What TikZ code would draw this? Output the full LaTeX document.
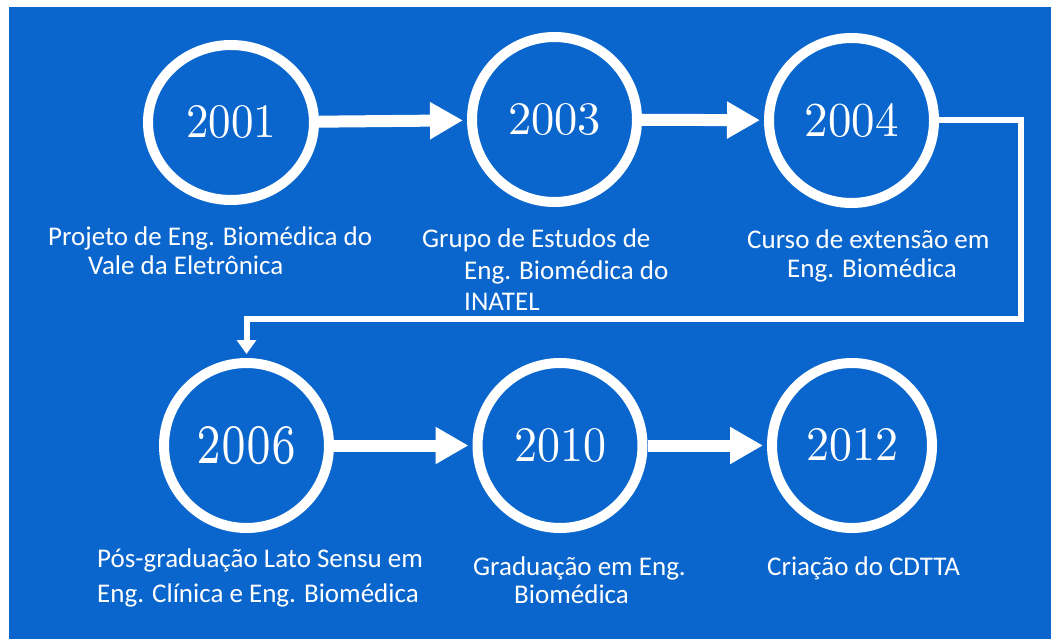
\documentclass[tikz,border=0pt]{standalone}
\usepackage{fontspec}
\usepackage{graphicx}
\newfontfamily\capfont{Carlito}
\usetikzlibrary{arrows.meta,shapes.geometric}
\definecolor{bgblue}{RGB}{10,102,204}
\begin{document}
\begin{tikzpicture}[x=1pt,y=-1pt,
  yearnode/.style={ellipse, draw=white, line width=10pt, minimum width=165pt, minimum height=165pt, inner sep=0pt, text=white},
  captext/.style={anchor=base west, inner sep=0pt, text=white, font=\capfont\fontsize{27}{30}\selectfont},
  fatarrow/.style={draw=white, line width=12pt, -{Triangle[length=33pt,width=35pt]}, shorten >=4pt},
  thinarrow/.style={draw=white, line width=6pt, line join=miter, -{Triangle[length=14pt,width=19pt]}, shorten >=4pt}]
\useasboundingbox (0,0) rectangle (1051,639);
\fill[white] (0,0) rectangle (1051,639);
\fill[bgblue] (9,7) rectangle (1051,639);
% year circles
\node[yearnode, minimum width=166pt, minimum height=155pt] (y2001) at (231,122.5) {\resizebox{90pt}{32pt}{\fontsize{10}{10}\selectfont 2001}};
\node[yearnode] (y2003) at (554.5,119.5) {\resizebox{93pt}{31pt}{\fontsize{10}{10}\selectfont 2003}};
\node[yearnode] (y2004) at (851.5,120.5) {\resizebox{94pt}{33pt}{\fontsize{10}{10}\selectfont 2004}};
\node[yearnode] (y2006) at (246.5,445.5) {\resizebox{100pt}{37pt}{\fontsize{6}{6}\selectfont 2006}};
\node[yearnode] (y2010) at (560,445.5) {\resizebox{92pt}{33pt}{\fontsize{10}{10}\selectfont 2010}};
\node[yearnode, minimum width=160pt] (y2012) at (852,445.5) {\resizebox{92pt}{32pt}{\fontsize{10}{10}\selectfont 2012}};
% connectors
\draw[fatarrow] (y2001) -- (y2003);
\draw[fatarrow] (y2003) -- (y2004);
\draw[fatarrow] (y2006) -- (y2010);
\draw[fatarrow] (y2010) -- (y2012);
\coordinate (r) at (1021,120.5);
\coordinate (l) at (246.5,319);
\draw[thinarrow] (y2004.east) -- (r) |- (l) -- (y2006.north);
% captions
\node[captext] (c1a) at (48,245.5) {Projeto de Eng. Biomédica do};
\node[captext] (c1b) at (88,274) {Vale da Eletrônica};
\node[captext] (c2a) at (422,247) {Grupo de Estudos de};
\node[captext] (c2b) at (464,279) {Eng. Biomédica do};
\node[captext] (c2c) at (464,310) {INATEL};
\node[captext] (c3a) at (747,248) {Curso de extensão em};
\node[captext] (c3b) at (787,277) {Eng. Biomédica};
\node[captext] (c4a) at (97,567) {Pós-graduação Lato Sensu em};
\node[captext] (c4b) at (97,602) {Eng. Clínica e Eng. Biomédica};
\node[captext] (c5a) at (473,575) {Graduação em Eng.};
\node[captext] (c5b) at (514,603) {Biomédica};
\node[captext] (c6) at (767,575) {Criação do CDTTA};
\end{tikzpicture}
\end{document}
